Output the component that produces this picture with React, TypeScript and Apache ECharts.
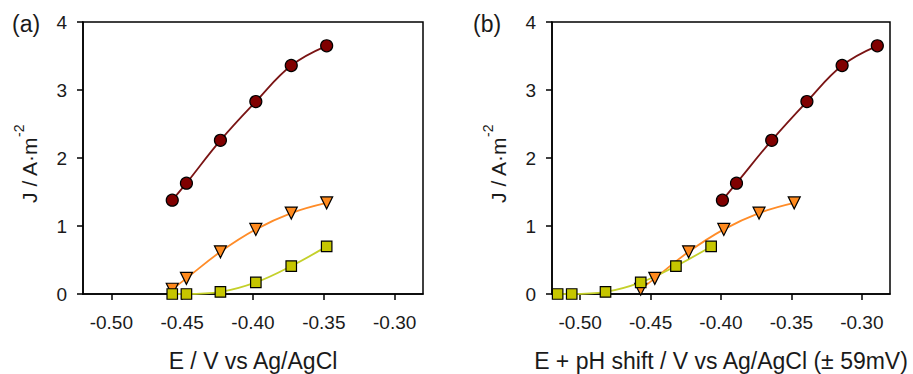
import React, { useEffect, useRef } from "react";
import * as echarts from "echarts";

// Potentials (V vs Ag/AgCl) and current densities (A·m-2)
const E_A = [-0.457, -0.447, -0.423, -0.398, -0.373, -0.348];
const J_CIRCLE = [1.38, 1.63, 2.26, 2.83, 3.36, 3.65];
const J_TRIANGLE = [0.07, 0.23, 0.62, 0.95, 1.19, 1.34];
const J_SQUARE = [0, 0, 0.03, 0.17, 0.41, 0.7];

// pH-shifted potentials for panel (b)
const E_B_CIRCLE = [-0.399, -0.389, -0.364, -0.339, -0.314, -0.289];
const E_B_TRIANGLE = [-0.457, -0.447, -0.423, -0.398, -0.373, -0.348];
const E_B_SQUARE = [-0.516, -0.506, -0.482, -0.457, -0.432, -0.407];

const X_TICKS = [-0.5, -0.45, -0.4, -0.35, -0.3];
const X_MIN = -0.52;
const X_MAX = -0.28;

const FONT = "'Liberation Sans', Arial, sans-serif";
const INK = "#1a1a1a";

const CIRCLE = { fill: "#800000", line: "#7a1414" };
const TRIANGLE = { fill: "#ff8a1e", line: "#ff8c28" };
const SQUARE = { fill: "#c6c600", line: "#c4d02a" };

const zip = (xs: number[], ys: number[]) => xs.map((x, i) => [x, ys[i]]);

function xAxisFor(gridIndex: number, title: string) {
  return {
    type: "value",
    gridIndex,
    min: X_MIN,
    max: X_MAX,
    name: title,
    nameLocation: "middle",
    nameGap: 55,
    nameTextStyle: { fontFamily: FONT, fontSize: 23, lineHeight: 24, color: INK },
    axisLine: { show: true, onZero: false, lineStyle: { color: "#000", width: 1.5 } },
    axisTick: {
      show: true,
      inside: false,
      length: 6,
      customValues: X_TICKS,
      lineStyle: { color: "#000", width: 1.5 },
    },
    axisLabel: {
      customValues: X_TICKS,
      margin: 19,
      fontFamily: FONT,
      fontSize: 19,
      color: INK,
      formatter: (v: number) => v.toFixed(2),
    },
    splitLine: { show: false },
  };
}

function yAxisFor(gridIndex: number) {
  return {
    type: "value",
    gridIndex,
    min: 0,
    max: 4,
    interval: 1,
    name: "{a|J / A·m}{sup|-2}",
    nameLocation: "middle",
    nameRotate: 90,
    nameGap: 43,
    nameTextStyle: {
      fontFamily: FONT,
      color: INK,
      padding: [0, 12, 0, 0],
      rich: {
        a: { fontFamily: FONT, fontSize: 21, color: INK, lineHeight: 28, verticalAlign: "bottom" },
        sup: { fontFamily: FONT, fontSize: 14, color: INK, lineHeight: 14, verticalAlign: "top" },
      },
    },
    axisLine: { show: true, lineStyle: { color: "#000", width: 1.5 } },
    axisTick: { show: true, inside: false, length: 6, lineStyle: { color: "#000", width: 1.5 } },
    axisLabel: { margin: 16, fontFamily: FONT, fontSize: 19, color: INK },
    splitLine: { show: false },
  };
}

function seriesFor(
  idx: number,
  data: number[][],
  style: { fill: string; line: string },
  symbol: string,
  size: number,
  rotate = 0
) {
  return {
    type: "line",
    xAxisIndex: idx,
    yAxisIndex: idx,
    data,
    smooth: 0.4,
    clip: false,
    symbol,
    symbolSize: size,
    symbolRotate: rotate,
    showAllSymbol: true,
    lineStyle: { color: style.line, width: 1.8 },
    itemStyle: { color: style.fill, borderColor: "#000", borderWidth: 1.2 },
    emphasis: { disabled: true },
  };
}

export default function App() {
  const ref = useRef<HTMLDivElement>(null);

  useEffect(() => {
    if (!ref.current) return;
    const chart = echarts.init(ref.current, null, { renderer: "svg" });
    const gridBase = {
      top: 22,
      height: 272,
      show: true,
      borderColor: "#000",
      borderWidth: 1.5,
      backgroundColor: "transparent",
      containLabel: false,
      outerBoundsMode: "none",
    };
    chart.setOption({
      animation: false,
      backgroundColor: "#fff",
      grid: [
        { ...gridBase, left: 83, width: 340 },
        { ...gridBase, left: 552, width: 338 },
      ],
      xAxis: [
        xAxisFor(0, "E / V vs Ag/AgCl"),
        xAxisFor(1, "E + pH shift / V vs Ag/AgCl (± 59mV)"),
      ],
      yAxis: [yAxisFor(0), yAxisFor(1)],
      graphic: [
        { type: "text", left: 12, top: 12, style: { text: "(a)", font: `23px ${FONT}`, fill: INK } },
        { type: "text", left: 473, top: 12, style: { text: "(b)", font: `23px ${FONT}`, fill: INK } },
      ],
      series: [
        seriesFor(0, zip(E_A, J_CIRCLE), CIRCLE, "circle", 12),
        seriesFor(0, zip(E_A, J_TRIANGLE), TRIANGLE, "triangle", 12, 180),
        seriesFor(0, zip(E_A, J_SQUARE), SQUARE, "rect", 10.5),
        seriesFor(1, zip(E_B_CIRCLE, J_CIRCLE), CIRCLE, "circle", 12),
        seriesFor(1, zip(E_B_TRIANGLE, J_TRIANGLE), TRIANGLE, "triangle", 12, 180),
        seriesFor(1, zip(E_B_SQUARE, J_SQUARE), SQUARE, "rect", 10.5),
      ],
    });
    return () => chart.dispose();
  }, []);

  return (
    <div
      ref={ref}
      style={{ position: "fixed", left: 0, top: 0, width: 913, height: 374 }}
    />
  );
}
